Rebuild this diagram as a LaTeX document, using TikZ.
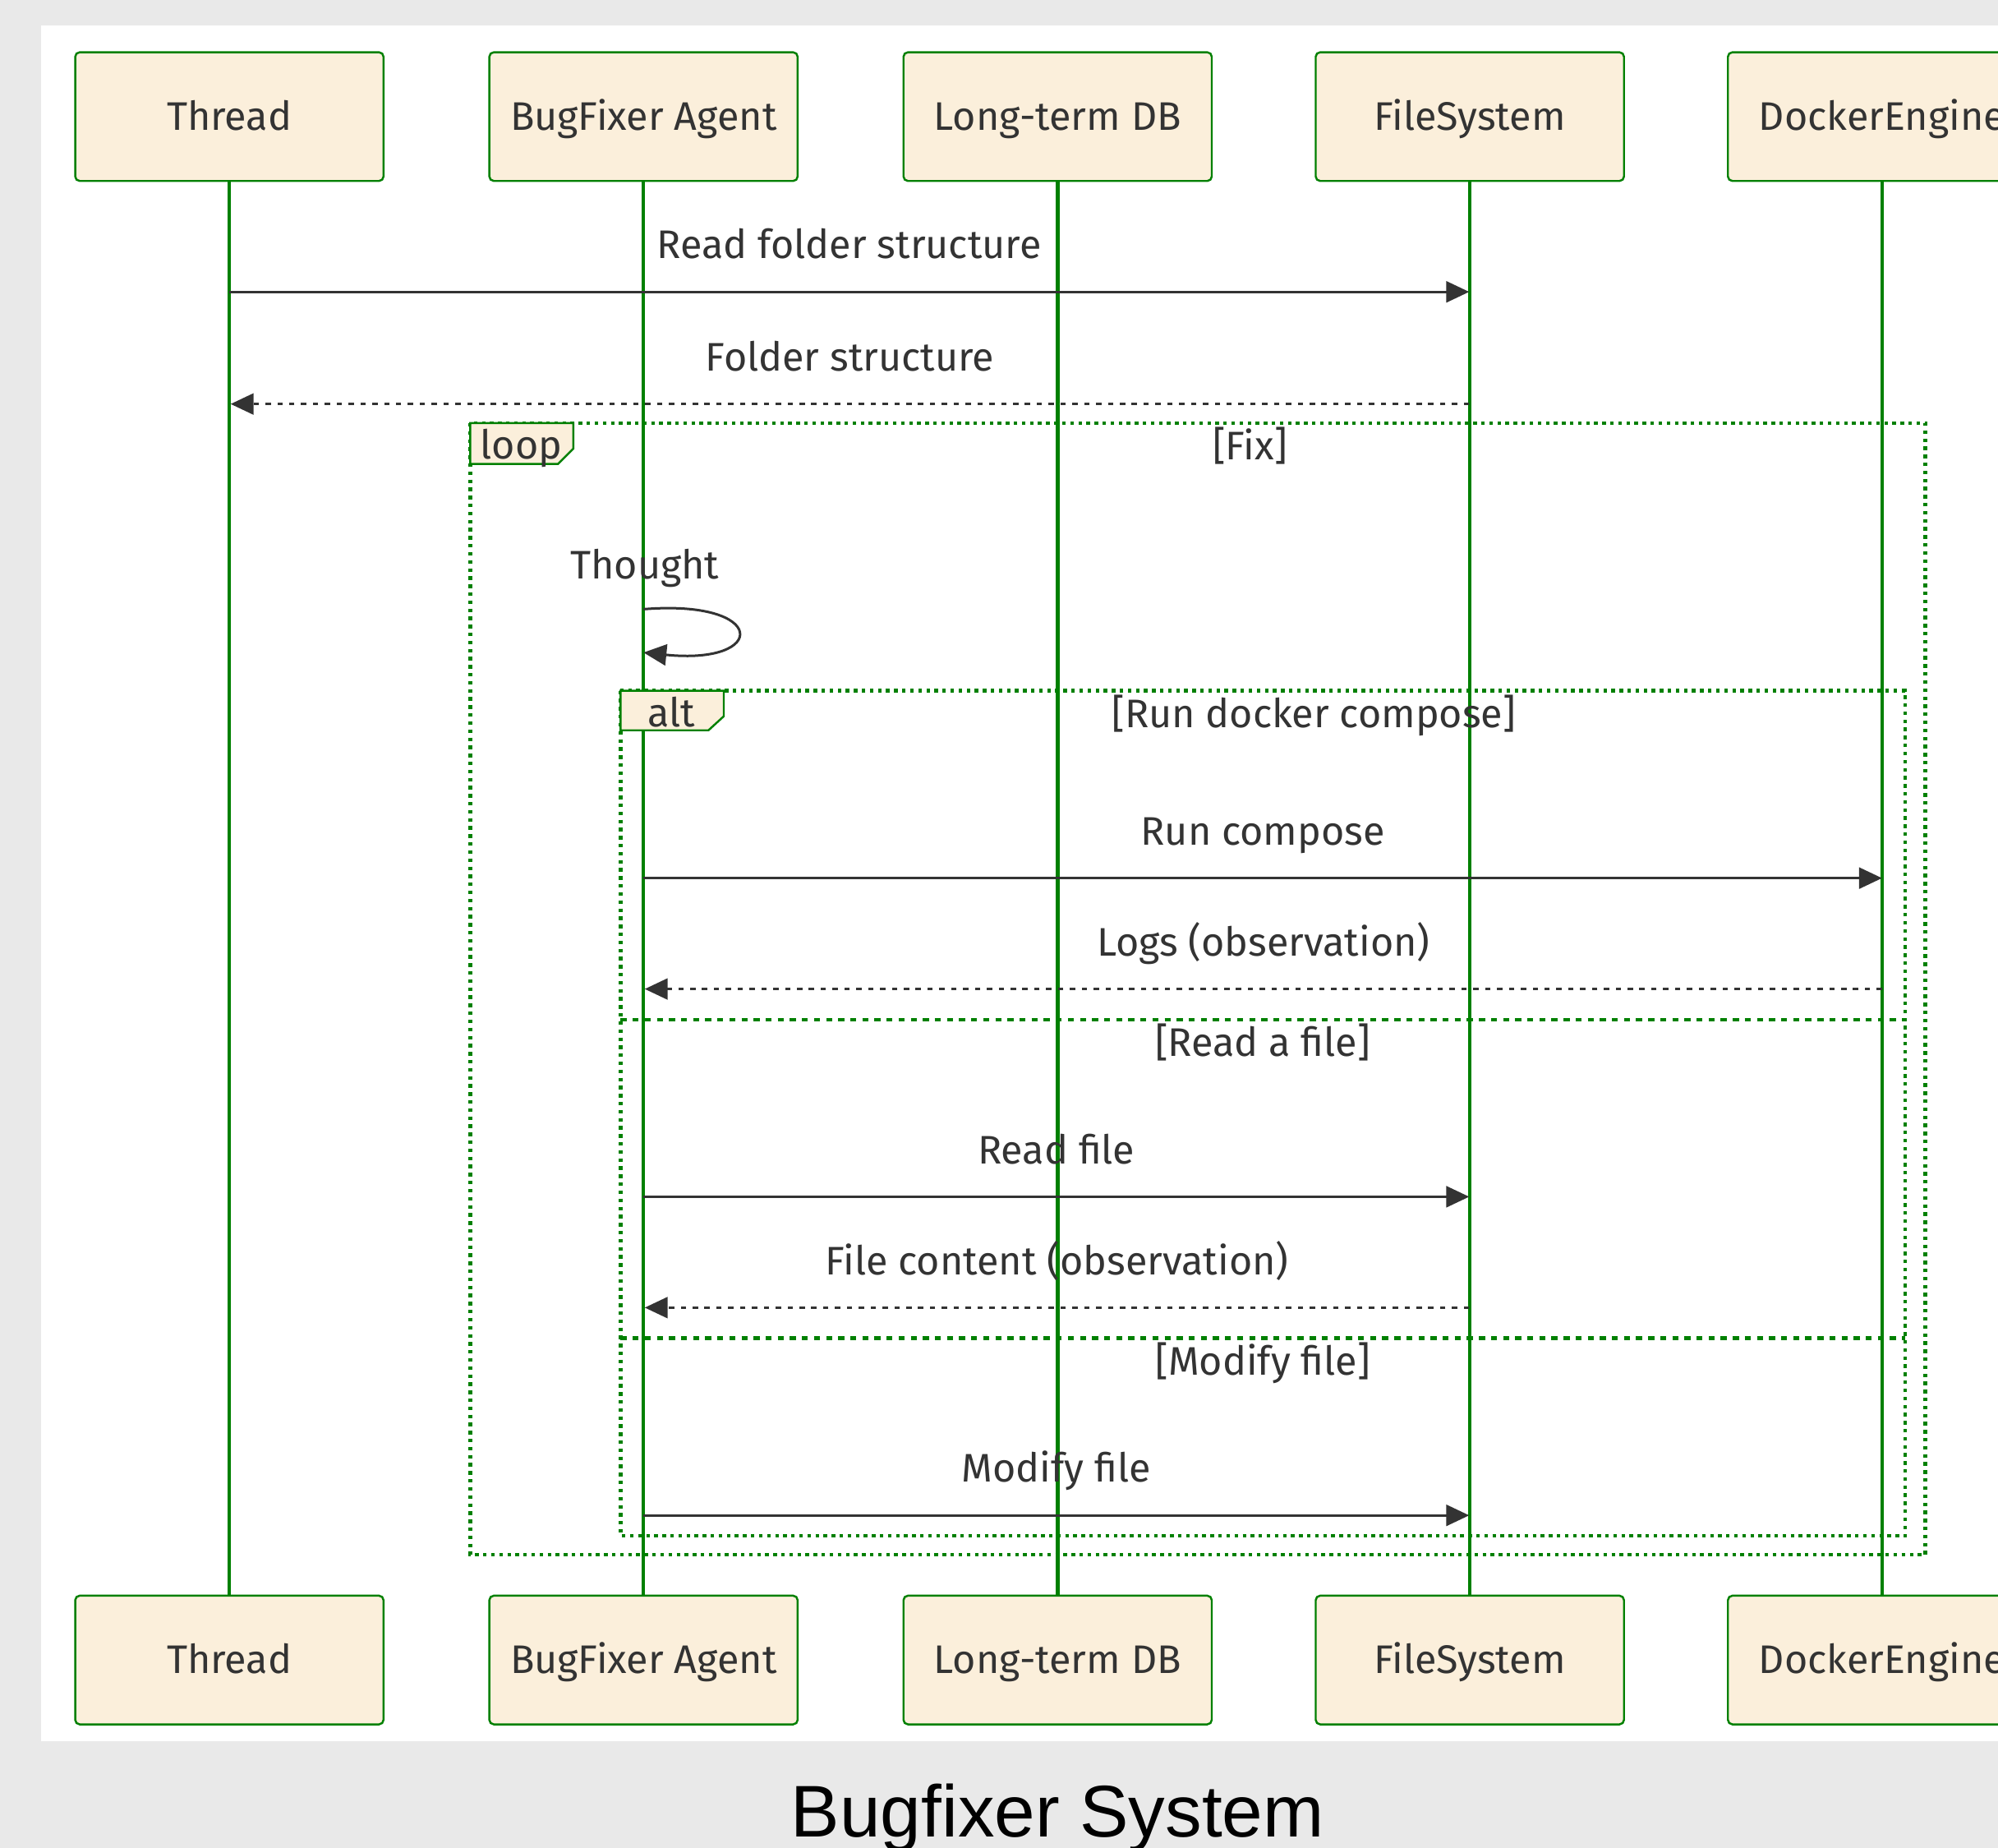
\documentclass[tikz,border=0pt]{standalone}
\usepackage{fontspec}
\setmainfont{Fira Sans}
\newfontfamily\titlefont{Liberation Sans}
\usetikzlibrary{arrows.meta}
\definecolor{actorfill}{RGB}{251,239,219}
\definecolor{lifegreen}{RGB}{0,128,0}
\definecolor{inkgray}{RGB}{51,51,51}
\definecolor{pagegray}{RGB}{233,233,233}
\tikzset{
  actor/.style={draw=lifegreen, fill=actorfill, line width=0.9pt, rounded corners=2pt,
    minimum width=4.84cm, minimum height=2.02cm, text=inkgray,
    font=\fontsize{17.8}{21}\selectfont, text height=12.2pt, text depth=0pt},
  lifeline/.style={draw=lifegreen, line width=1.6pt},
  msg/.style={draw=inkgray, line width=1.1pt, -{Triangle[length=0.36cm,width=0.33cm]}},
  reply/.style={msg, dash pattern=on 2.4pt off 2.9pt},
  msglabel/.style={text=inkgray, font=\fontsize{17.8}{21}\selectfont, anchor=base, yshift=0.52cm},
  guard/.style={text=inkgray, font=\fontsize{17.8}{21}\selectfont, anchor=base},
  frame/.style={draw=lifegreen, line width=1.6pt, dash pattern=on 1.6pt off 2pt},
  divider/.style={draw=lifegreen, line width=1.6pt, dash pattern=on 2.7pt off 2.7pt},
  tab/.style={draw=lifegreen, fill=actorfill, line width=0.9pt}
}
\begin{document}
\begin{tikzpicture}[x=0.02cm,y=0.02cm]
% page and panel
\useasboundingbox[fill=pagegray] (0,0) rectangle (1568,-1450);
\fill[white] (32,-20) rectangle (1568,-1366);

% participants, top row
\node[actor] (thread) at (180,-91.5) {Thread};
\node[actor] (agent) at (505,-91.5) {BugFixer Agent};
\node[actor] (ltdb) at (830,-91.5) {Long-term DB};
\node[actor] (files) at (1153.5,-91.5) {FileSystem};
\node[actor] (docker) at (1477,-91.5) {DockerEngine};

% participants, bottom row
\node[actor] (threadB) at (180,-1302.5) {Thread};
\node[actor] (agentB) at (505,-1302.5) {BugFixer Agent};
\node[actor] (ltdbB) at (830,-1302.5) {Long-term DB};
\node[actor] (filesB) at (1153.5,-1302.5) {FileSystem};
\node[actor] (dockerB) at (1477,-1302.5) {DockerEngine};

% lifelines
\draw[lifeline] (thread) -- (threadB);
\draw[lifeline] (agent) -- (agentB);
\draw[lifeline] (ltdb) -- (ltdbB);
\draw[lifeline] (files) -- (filesB);
\draw[lifeline] (docker) -- (dockerB);

% loop and alt frames
\draw[frame] (369,-332) rectangle (1511,-1220);
\draw[frame] (487,-542) rectangle (1495,-1205);
\draw[divider] (487,-800) -- (1495,-800);
\draw[divider] (487,-1050) -- (1495,-1050);
\draw[tab] (369,-332) -- (450,-332) -- (450,-352) -- (438,-364) -- (369,-364) -- cycle;
\draw[tab] (487,-542) -- (568,-542) -- (568,-562) -- (556,-573) -- (487,-573) -- cycle;
\node[guard] (looplbl) at (409,-360) {loop};
\node[guard] (altlbl) at (527,-570) {alt};
\node[guard] (fixlbl) at (981,-361) {[Fix]};
\node[guard] (runlbl) at (1031,-571) {[Run docker compose]};
\node[guard] (readlbl) at (991,-829) {[Read a file]};
\node[guard] (modlbl) at (991,-1079) {[Modify file]};

% message points on the lifelines
\coordinate (m1a) at (180,-229);   \coordinate (m1b) at (1153,-229);
\coordinate (m2a) at (1153,-317);  \coordinate (m2b) at (181,-317);
\coordinate (selfa) at (505,-478); \coordinate (selfb) at (505,-512);
\coordinate (m3a) at (505,-689);   \coordinate (m3b) at (1477,-689);
\coordinate (m4a) at (1477,-776);  \coordinate (m4b) at (506,-776);
\coordinate (m5a) at (505,-939);   \coordinate (m5b) at (1153,-939);
\coordinate (m6a) at (1153,-1026); \coordinate (m6b) at (506,-1026);
\coordinate (m7a) at (505,-1189);  \coordinate (m7b) at (1153,-1189);

% messages
\draw[msg] (m1a) -- node[msglabel] {Read folder structure} (m1b);
\draw[reply] (m2a) -- node[msglabel] {Folder structure} (m2b);
\node[guard] (thought) at (506,-454) {Thought};
\draw[msg] (selfa) .. controls (603,-470) and (603,-522) .. (selfb);
\draw[msg] (m3a) -- node[msglabel] {Run compose} (m3b);
\draw[reply] (m4a) -- node[msglabel] {Logs (observation)} (m4b);
\draw[msg] (m5a) -- node[msglabel] {Read file} (m5b);
\draw[reply] (m6a) -- node[msglabel] {File content (observation)} (m6b);
\draw[msg] (m7a) -- node[msglabel] {Modify file} (m7b);

% caption
\node[font=\titlefont\fontsize{32.7}{39}\selectfont, anchor=base] (title) at (830,-1441) {Bugfixer System};
\end{tikzpicture}
\end{document}
